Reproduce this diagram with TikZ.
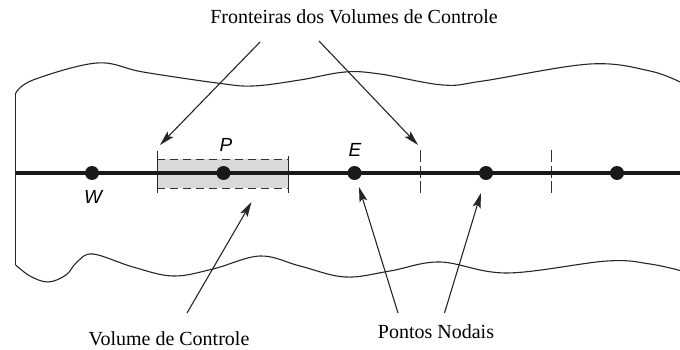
\documentclass[tikz,border=0pt]{standalone}
\usepackage{fontspec}
\setmainfont{Liberation Serif}
\newfontfamily\lblfont{Liberation Sans}
\usetikzlibrary{arrows.meta}
\begin{document}
\begin{tikzpicture}[x=1pt,y=-1pt,
  thin line/.style={line width=1.1pt,black!85},
  callout/.style={line width=1.1pt,black!85,-{Stealth[length=15pt,width=8pt,inset=3pt]}},
  nodedot/.style={circle,fill=black!90,inner sep=0pt,minimum size=14pt},
  caption/.style={font=\fontsize{20}{24}\selectfont,inner sep=0pt},
  letter/.style={font=\lblfont\itshape\fontsize{19}{22}\selectfont,inner sep=0pt},
  cvdash/.style={line width=1pt,black!80,dash pattern=on 12pt off 3.5pt},
  boxdash/.style={line width=1pt,black!80,dash pattern=on 8pt off 5pt}]
\useasboundingbox (0,0) rectangle (680,350);
% domain outline
\draw[thin line] plot[smooth,tension=0.6] coordinates {(15.7,93.3) (33,80) (97,63) (143,72) (217,83) (253,86) (300,80) (345,72) (380,74) (443,85) (483,81) (590,64) (650,71) (682,83)};
\draw[thin line] plot[smooth,tension=0.6] coordinates {(15.7,265) (30,276) (48,282) (66,275) (77,262) (93,254) (133,267) (173,276) (213,269) (260,256) (300,266) (345,277) (390,271) (440,262) (507,273) (607,261) (650,264) (682,271)};
\draw[thin line] (15.7,93.3) -- (15.7,265);
% control volume box
\fill[black!15] (157.3,159.3) rectangle (288.3,188);
\draw[boxdash] (157.3,159.3) -- (288.3,159.3);
\draw[boxdash] (157.3,188) -- (288.3,188);
\draw[line width=1pt,black!85] (157.3,150.7) -- (157.3,193);
\draw[line width=1pt,black!85] (288.3,156) -- (288.3,193);
% CV boundaries
\draw[cvdash] (420,150) -- (420,193);
\draw[cvdash] (551.6,150) -- (551.6,193);
% main line
\draw[line width=4.5pt,black!90] (15.7,173) -- (682,173);
% nodes
\node[nodedot] (W) at (92,173) {};
\node[nodedot] (P) at (223.5,173) {};
\node[nodedot] (E) at (354.5,173) {};
\node[nodedot] (N4) at (486,173) {};
\node[nodedot] (N5) at (617,173) {};
\node[letter] (Wl) at (93,197) {W};
\node[letter] (Pl) at (226,145) {P};
\node[letter] (El) at (355,150) {E};
% captions
\node[caption] (ftxt) at (354,17) {Fronteiras dos Volumes de Controle};
\node[caption] (vtxt) at (169,339) {Volume de Controle};
\node[caption] (ptxt) at (436,332) {Pontos Nodais};
% arrow end points
\coordinate (f1s) at (260,42);
\coordinate (f1e) at (160,145);
\coordinate (f2s) at (319,41);
\coordinate (f2e) at (418,145);
\coordinate (vs) at (187,313);
\coordinate (ve) at (251.5,202);
\coordinate (n1s) at (398,313);
\coordinate (n1e) at (359,187);
\coordinate (n2s) at (444.5,313);
\coordinate (n2e) at (481,193);
\draw[callout] (f1s) -- (f1e);
\draw[callout] (f2s) -- (f2e);
\draw[callout] (vs) -- (ve);
\draw[callout] (n1s) -- (n1e);
\draw[callout] (n2s) -- (n2e);
\end{tikzpicture}
\end{document}
